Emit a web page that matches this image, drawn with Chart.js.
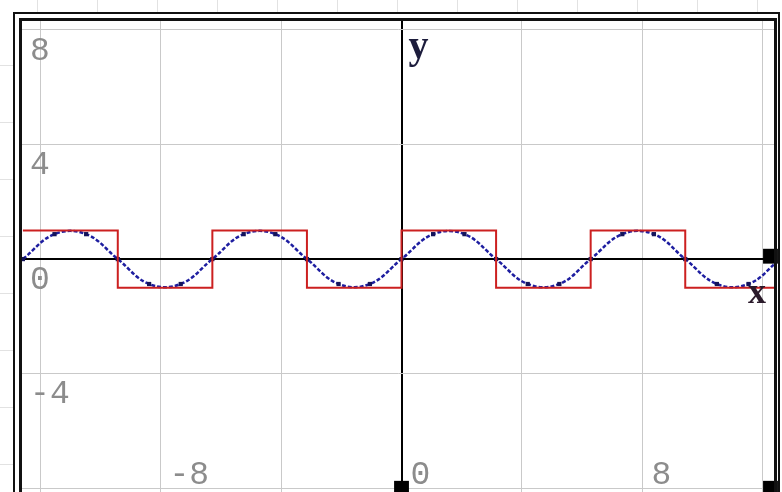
<!DOCTYPE html>
<html>
<head>
<meta charset="utf-8">
<script src="https://cdn.jsdelivr.net/npm/chart.js@4.4.1/dist/chart.umd.min.js"></script>
<style>
  html, body { margin: 0; padding: 0; background: #ffffff; }
  #c { display: block; }
</style>
</head>
<body>
<canvas id="c" width="782" height="492"></canvas>
<script>
// ---- data ----
const squareX = [-12.57, -9.42, -6.28, -3.14, 0, 3.14, 6.28, 9.42, 12.57];
const squareY = [1, -1, 1, -1, 1, -1, 1, -1, -1];

const sineX = [-12.57, -11.52, -10.47, -9.42, -8.38, -7.33, -6.28, -5.24, -4.19, -3.14, -2.09, -1.05,
               0, 1.05, 2.09, 3.14, 4.19, 5.24, 6.28, 7.33, 8.38, 9.42, 10.47, 11.52, 12.57];
const sineY = [0, 0.87, 0.87, 0, -0.87, -0.87, 0, 0.87, 0.87, 0, -0.87, -0.87,
               0, 0.87, 0.87, 0, -0.87, -0.87, 0, 0.87, 0.87, 0, -0.87, -0.87, 0];

const handleX = [0, 12.25, 12.25];
const handleY = [-8, 0.1, -8];

const xGrid = [-12, -8, -4, 0, 4, 8, 12];
const yGrid = [-8, -4, 0, 4, 8];
const xTickValues = [-8, 0, 8];
const xTickLabels = ['-8', '0', '8'];
const yTickValues = [8, 4, 0, -4, -8];
const yTickLabels = ['8', '4', '0', '-4', '-8'];
const xAxisName = 'x';
const yAxisName = 'y';

function pts(xs, ys) { return xs.map((x, i) => ({ x: x, y: ys[i] })); }

const gridColor = (c) => (c.tick && c.tick.value === 0) ? '#000000' : '#c9c9c9';
const gridWidth = (c) => (c.tick && c.tick.value === 0) ? 2 : 1;

const decorPlugin = {
  id: 'decor',
  beforeDraw(chart) {
    const ctx = chart.ctx;
    ctx.save();
    ctx.fillStyle = '#ffffff';
    ctx.fillRect(0, 0, chart.width, chart.height);
    // faint spreadsheet cells outside the frame
    ctx.strokeStyle = '#e2e2e2';
    ctx.lineWidth = 1;
    for (let x = 37; x < 782; x += 60) {
      ctx.beginPath(); ctx.moveTo(x + 0.5, 0); ctx.lineTo(x + 0.5, 12); ctx.stroke();
    }
    for (let y = 65; y < 492; y += 57) {
      ctx.beginPath(); ctx.moveTo(0, y + 0.5); ctx.lineTo(13, y + 0.5); ctx.stroke();
    }
    ctx.restore();
  },
  beforeDatasetsDraw(chart) {
    const ctx = chart.ctx;
    const xs = chart.scales.x, ys = chart.scales.y;
    ctx.save();
    ctx.fillStyle = '#8c8c8c';
    ctx.font = '33px "Liberation Mono"';
    ctx.textAlign = 'left';
    ctx.textBaseline = 'middle';
    yTickValues.forEach((v, i) => {
      ctx.fillText(yTickLabels[i], xs.getPixelForValue(-12) - 10, ys.getPixelForValue(v) + 21);
    });
    ctx.textBaseline = 'alphabetic';
    xTickValues.forEach((v, i) => {
      ctx.fillText(xTickLabels[i], xs.getPixelForValue(v) + 9, ys.getPixelForValue(-8) - 4);
    });
    ctx.restore();
  },
  afterDraw(chart) {
    const ctx = chart.ctx;
    const xs = chart.scales.x, ys = chart.scales.y;
    ctx.save();
    // axis names
    ctx.font = 'bold 40px "Liberation Serif"';
    ctx.textAlign = 'left';
    ctx.textBaseline = 'alphabetic';
    ctx.fillStyle = '#1c1c3c';
    ctx.fillText(yAxisName, xs.getPixelForValue(0) + 7, 58);
    ctx.font = 'bold 36px "Liberation Serif"';
    ctx.fillStyle = '#2a1a2a';
    ctx.fillText(xAxisName, 748, 303);
    // double frame
    ctx.strokeStyle = '#111111';
    ctx.lineWidth = 2;
    ctx.strokeRect(14, 13, 765, 600);
    ctx.lineWidth = 3;
    ctx.strokeRect(20.5, 19.5, 755, 600);
    ctx.restore();
  }
};

new Chart(document.getElementById('c'), {
  type: 'scatter',
  data: {
    datasets: [
      {
        label: 'square',
        data: pts(squareX, squareY),
        showLine: true,
        stepped: true,
        borderColor: '#cc2020',
        borderWidth: 2,
        pointRadius: 0,
        fill: false
      },
      {
        label: 'sine',
        data: pts(sineX, sineY),
        showLine: true,
        tension: 0.4,
        borderColor: '#1e1ea0',
        borderWidth: 2.5,
        borderDash: [4, 2],
        pointStyle: 'rect',
        pointRadius: 3,
        pointBackgroundColor: '#14145a',
        pointBorderWidth: 0,
        fill: false
      },
      {
        label: 'handles',
        data: pts(handleX, handleY),
        showLine: false,
        pointStyle: 'rect',
        pointRadius: 10.5,
        pointBackgroundColor: '#000000',
        pointBorderWidth: 0,
        clip: false
      }
    ]
  },
  options: {
    responsive: false,
    maintainAspectRatio: false,
    animation: false,
    devicePixelRatio: 1,
    layout: { autoPadding: false, padding: { left: 22, top: 21, right: 7, bottom: 0 } },
    plugins: { legend: { display: false }, tooltip: { enabled: false } },
    scales: {
      x: {
        type: 'linear',
        min: -12.60,
        max: 12.40,
        afterBuildTicks: (s) => { s.ticks = xGrid.map(v => ({ value: v })); },
        ticks: { display: false },
        border: { display: false },
        grid: { color: gridColor, lineWidth: gridWidth, drawTicks: false }
      },
      y: {
        type: 'linear',
        min: -8.13,
        max: 8.31,
        afterBuildTicks: (s) => { s.ticks = yGrid.map(v => ({ value: v })); },
        ticks: { display: false },
        border: { display: false },
        grid: { color: gridColor, lineWidth: gridWidth, drawTicks: false }
      }
    }
  },
  plugins: [decorPlugin]
});
</script>
</body>
</html>
